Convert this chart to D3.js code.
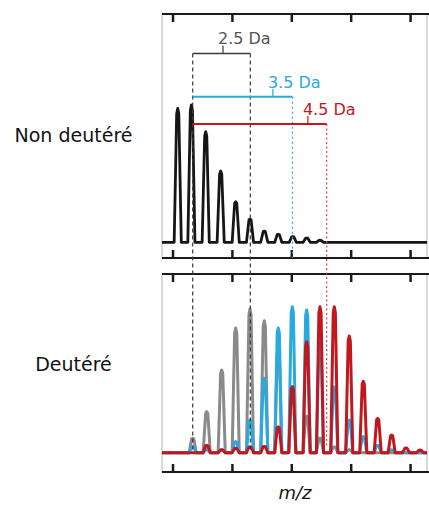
<!DOCTYPE html>
<html>
<head>
<meta charset="utf-8">
<script src="https://cdn.jsdelivr.net/npm/d3@7"></script>
<style>
  html, body { margin: 0; padding: 0; background: #fff; }
  svg { display: block; }
</style>
</head>
<body>
<svg id="chart" width="429" height="506"></svg>
<script>
// ---------- data ----------
// m/z positions are in the axis' own units (ticks at 1..5, labels not legible)
const xTicks = [1, 2, 3, 4, 5];

// Non-deuterated spectrum (top panel)
const topMz  = [1.088, 1.318, 1.559, 1.811, 2.064, 2.305, 2.545, 2.781, 3.025, 3.259, 3.483];
const topInt = [97.6, 100, 80.6, 51.9, 29.6, 17, 8.2, 5.8, 4.1, 3.1, 1.5];

// Deuterated spectrum (bottom panel): one m/z list, three overlaid series
const botMz    = [1.340, 1.576, 1.828, 2.064, 2.305, 2.545, 2.781, 3.017, 3.259, 3.483, 3.724, 3.976, 4.212, 4.455, 4.690, 4.931, 5.167];
const grayInt  = [9.9, 28.1, 56.6, 85.4, 98.4, 90.4, 70, 45, 25, 10, 4, 2, 0, 0, 0, 0, 0];
const blueInt  = [4, 2, 2, 7.6, 22.4, 50.9, 85.4, 100, 97.7, 75, 45, 22.4, 11, 5, 2, 0, 0];
const redInt   = [0, 5, 2, 3, 4, 4.3, 17.8, 45.2, 76, 100, 100, 79.9, 48.9, 23.5, 12.1, 3.2, 1.8];

// Mass-shift brackets (top panel): start/end m/z, level on the top intensity scale
const shiftLabels = ["2.5 Da", "3.5 Da", "4.5 Da"];
const shiftStart  = [1.340, 1.340, 1.340];
const shiftEnd    = [2.310, 3.020, 3.596];
const shiftLevel  = [137.6, 106, 86.2];
const shiftColors = ["#3a3a3a", "#29a9e1", "#c1171d"];
const shiftLabelMz = [1.85, 2.69, 3.28];

// ---------- layout ----------
const svg = d3.select("#chart");
const L = 162, R = 427;
const x = d3.scaleLinear().domain([0.823, 5.285]).range([L, R]);
const P1 = {top: 14, bottom: 258};
const P2 = {top: 274, bottom: 472};
const yTop = d3.scaleLinear().domain([0, 100]).range([242.3, 105]);
const yBot = d3.scaleLinear().domain([0, 100]).range([452.7, 306.7]);

const HW = 0.06; // half width of a peak at its base (m/z units)
function trace(mz, inten) {
  const pts = [[x.domain()[0], 0]];
  mz.forEach((m, i) => {
    const h = inten[i];
    pts.push([m - HW, 0], [m - HW * 0.3, h * 0.96], [m, h], [m + HW * 0.3, h * 0.96], [m + HW, 0]);
  });
  pts.push([x.domain()[1], 0]);
  return pts;
}

// frames
[P1, P2].forEach(p => {
  svg.append("rect")
    .attr("x", L).attr("y", p.top)
    .attr("width", R - L).attr("height", p.bottom - p.top)
    .attr("fill", "none").attr("stroke", "#b5b5b5").attr("stroke-width", 1);
});

// axes (ticks inside, no labels)
function drawAxis(gen, yPos) {
  const g = svg.append("g").attr("transform", `translate(0,${yPos})`)
    .call(gen.tickValues(xTicks).tickFormat("").tickSizeOuter(0).tickSizeInner(-8));
  g.select(".domain").attr("stroke", "#1a1a1a").attr("stroke-width", 2)
    .attr("d", `M${L},0H429`);
  g.selectAll(".tick line").attr("stroke", "#1a1a1a").attr("stroke-width", 2.5);
}
drawAxis(d3.axisTop(x), P1.top);
drawAxis(d3.axisBottom(x), P1.bottom);
drawAxis(d3.axisTop(x), P2.top);
drawAxis(d3.axisBottom(x), P2.bottom);

// spectra
const lineTop = d3.line().x(d => x(d[0])).y(d => yTop(d[1]));
const lineBot = d3.line().x(d => x(d[0])).y(d => yBot(d[1]));

svg.append("path").datum(trace(topMz, topInt))
  .attr("d", lineTop).attr("fill", "none")
  .attr("stroke", "#161616").attr("stroke-width", 2.8).attr("stroke-linejoin", "round");

[[grayInt, "#8a8a8a"], [blueInt, "#29a9e1"], [redInt, "#c1171d"]].forEach(([arr, col]) => {
  svg.append("path").datum(trace(botMz, arr))
    .attr("d", lineBot).attr("fill", "none")
    .attr("stroke", col).attr("stroke-width", 3).attr("stroke-linejoin", "round");
});

// dashed guide lines
const guides = [
  {mz: shiftStart[0], y0: yTop(shiftLevel[0]), y1: yBot(0), col: "#3a3a3a", dash: "4,3"},
  {mz: shiftEnd[0],   y0: yTop(shiftLevel[0]), y1: yBot(0), col: "#3a3a3a", dash: "4,3"},
  {mz: shiftEnd[1],   y0: yTop(shiftLevel[1]), y1: P1.bottom, col: "#29a9e1", dash: "2,3"},
  {mz: shiftEnd[2],   y0: yTop(shiftLevel[2]), y1: yBot(4), col: "#d0454b", dash: "2,2.5"}
];
guides.forEach(g => {
  svg.append("line")
    .attr("x1", x(g.mz)).attr("x2", x(g.mz))
    .attr("y1", g.y0).attr("y2", g.y1)
    .attr("stroke", g.col).attr("stroke-width", 1.2)
    .attr("stroke-dasharray", g.dash);
});

// brackets + labels
shiftLabels.forEach((lab, i) => {
  const yy = yTop(shiftLevel[i]);
  svg.append("line")
    .attr("x1", x(shiftStart[i])).attr("x2", x(shiftEnd[i]))
    .attr("y1", yy).attr("y2", yy)
    .attr("stroke", shiftColors[i]).attr("stroke-width", i === 0 ? 1.5 : 2);
  const lx = x(shiftLabelMz[i]);
  svg.append("line")
    .attr("x1", lx).attr("x2", lx).attr("y1", yy - 8).attr("y2", yy)
    .attr("stroke", shiftColors[i]).attr("stroke-width", 1.2);
  svg.append("text")
    .attr("x", lx - 5).attr("y", yy - 9)
    .attr("font-family", "DejaVu Sans, sans-serif").attr("font-size", 16)
    .attr("fill", i === 0 ? "#555" : shiftColors[i])
    .text(lab);
});

// side labels
svg.append("text").attr("x", 73.5).attr("y", 142).attr("text-anchor", "middle")
  .attr("font-family", "DejaVu Sans, sans-serif").attr("font-size", 19).attr("fill", "#111")
  .text("Non deutéré");
svg.append("text").attr("x", 73.5).attr("y", 371).attr("text-anchor", "middle")
  .attr("font-family", "DejaVu Sans, sans-serif").attr("font-size", 19).attr("fill", "#111")
  .text("Deutéré");

// axis title
svg.append("text").attr("x", 295).attr("y", 499).attr("text-anchor", "middle")
  .attr("font-family", "DejaVu Sans, sans-serif").attr("font-size", 18)
  .attr("font-style", "italic").attr("fill", "#111")
  .text("m/z");
</script>
</body>
</html>
